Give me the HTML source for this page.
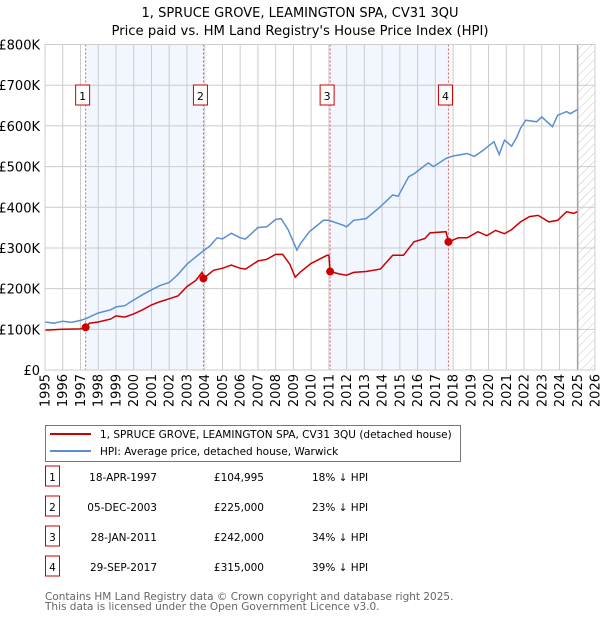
<!DOCTYPE html>
<html><head><meta charset="utf-8">
<style>
body{margin:0;background:#fff;font-family:"Liberation Sans","DejaVu Sans",sans-serif;}
#wrap{position:relative;width:600px;height:620px;overflow:hidden;}
svg text{font-family:"DejaVu Sans","Liberation Sans",sans-serif;}
</style></head>
<body>
<div id="wrap">
<svg id="chart" width="600" height="620"></svg>
</div>
<script>
const yTicks=[0,100,200,300,400,500,600,700,800];
const yTickLabels=["£0","£100K","£200K","£300K","£400K","£500K","£600K","£700K","£800K"];
const xYears=[1995,1996,1997,1998,1999,2000,2001,2002,2003,2004,2005,2006,2007,2008,2009,2010,2011,2012,2013,2014,2015,2016,2017,2018,2019,2020,2021,2022,2023,2024,2025,2026];
const hpiYears=[1995,1995.5,1996,1996.5,1997,1997.3,1998,1998.7,1999,1999.5,2000,2000.5,2001,2001.5,2002,2002.5,2003,2003.5,2003.9,2004.3,2004.7,2005,2005.5,2006,2006.3,2007,2007.5,2008,2008.3,2008.7,2009.2,2009.4,2009.9,2010.7,2011.0,2011.8,2012.0,2012.4,2013.1,2013.9,2014.6,2014.9,2015.5,2015.8,2016.6,2016.9,2017.6,2018.0,2018.8,2019.2,2019.7,2020.3,2020.6,2020.9,2021.3,2021.6,2021.8,2022.1,2022.7,2023.0,2023.6,2023.9,2024.4,2024.6,2025.0];
const hpiValues=[118,115,120,117,122,126,140,148,155,158,172,185,197,208,215,235,260,278,292,305,325,322,336,325,322,350,352,370,372,345,295,311,340,368,368,356,352,368,372,401,430,427,475,482,509,500,520,526,532,525,540,561,530,565,550,573,594,614,610,622,598,626,635,630,640];
const ppYears=[1995,1996,1997,1997.29,1997.5,1998,1998.7,1999,1999.5,2000,2000.5,2001,2001.5,2002,2002.5,2003,2003.5,2003.85,2003.93,2004.5,2005,2005.5,2006,2006.3,2007,2007.5,2008,2008.4,2008.8,2009.1,2009.4,2010.0,2010.9,2011.0,2011.07,2011.6,2012.0,2012.4,2013.1,2013.9,2014.6,2015.2,2015.8,2016.4,2016.7,2017.6,2017.74,2018.3,2018.8,2019.4,2019.9,2020.4,2020.9,2021.3,2021.8,2022.3,2022.8,2023.4,2023.9,2024.4,2024.8,2025.0];
const ppValues=[98,100,101,104.995,115,118,125,133,130,138,148,160,168,175,182,205,220,240,225,245,250,258,250,248,268,272,284,284,260,228,241,262,282,282,242,236,233,240,242,248,282,282,315,323,337,340,315,325,325,340,330,343,335,345,364,377,380,364,368,389,385,389];
const saleYears=[1997.29,2003.93,2011.07,2017.74];
const saleValues=[104.995,225,242,315];
const saleLabels=["1","2","3","4"];

const NS="http://www.w3.org/2000/svg";
const svg=document.getElementById('chart');
const L=45,R=595,T=44.5,B=370;
const xs=y=>L+(y-1995)*(R-L)/31;
const ys=v=>B-v*(B-T)/800;
function mk(tag,attrs,parent){const e=document.createElementNS(NS,tag);for(const k in attrs)e.setAttribute(k,attrs[k]);(parent||svg).appendChild(e);return e;}

let t=mk('text',{x:300,y:17,'text-anchor':'middle','font-size':13,fill:'#000'});t.textContent="1, SPRUCE GROVE, LEAMINGTON SPA, CV31 3QU";


t=mk('text',{x:300,y:35,'text-anchor':'middle','font-size':13.2,fill:'#000'});t.textContent="Price paid vs. HM Land Registry's House Price Index (HPI)";



for(let i=0;i<4;i+=2){const r=mk('rect',{x:xs(saleYears[i]),y:T,width:xs(saleYears[i+1])-xs(saleYears[i]),height:B-T,fill:'#f2f6fe'});

}

xYears.forEach(y=>{const l=mk('line',{x1:xs(y),x2:xs(y),y1:T,y2:B,stroke:'#cccccc','stroke-width':1});

});
yTicks.forEach(v=>{const l=mk('line',{x1:L,x2:R,y1:ys(v),y2:ys(v),stroke:'#cccccc','stroke-width':1});

});

const defs=mk('defs',{});
const pat=mk('pattern',{id:'hatch',patternUnits:'userSpaceOnUse',width:6,height:6,patternTransform:'rotate(45)'},defs);
mk('line',{x1:0,y1:0,x2:0,y2:6,stroke:'#c8c8c8','stroke-width':1},pat);
const hx=xs(2025.03);
let h=mk('rect',{x:hx,y:T,width:R-hx,height:B-T,fill:'url(#hatch)'});


mk('line',{x1:hx,x2:hx,y1:T,y2:B,stroke:'#999','stroke-width':1.2});

yTicks.forEach((v,i)=>{const e=mk('text',{x:40,y:ys(v)+5,'text-anchor':'end','font-size':13,fill:'#000'});e.textContent=yTickLabels[i];

});
xYears.forEach(y=>{const e=mk('text',{x:0,y:0,'text-anchor':'end','font-size':13,fill:'#000',transform:`translate(${xs(y)+4.5},374) rotate(-90)`});e.textContent=y;

});

saleYears.forEach(y=>{const l=mk('line',{x1:xs(y),x2:xs(y),y1:T,y2:B,stroke:'#e06060','stroke-width':1,'stroke-dasharray':'2,2'});

});

function path(xa,va){return xa.map((x,i)=>(i?'L':'M')+xs(x).toFixed(1)+','+ys(va[i]).toFixed(1)).join(' ');}
let p=mk('path',{d:path(hpiYears,hpiValues),fill:'none',stroke:'#5b8fd0','stroke-width':1.5});


p=mk('path',{d:path(ppYears,ppValues),fill:'none',stroke:'#cc0000','stroke-width':1.5});



saleYears.forEach((y,i)=>{const c=mk('circle',{cx:xs(y),cy:ys(saleValues[i]),r:4,fill:'#cc0000'});


const g=mk('g',{});


mk('rect',{x:xs(y)-10,y:85,width:14,height:20,fill:'#fff',stroke:'#cc0000','stroke-width':1},g);
const tt=mk('text',{x:xs(y)-3,y:100,'text-anchor':'middle','font-size':11,fill:'#000'},g);tt.textContent=saleLabels[i];});

mk('rect',{x:L,y:T,width:R-L,height:B-T,fill:'none',stroke:'#cccccc','stroke-width':1});

const lg=mk('g',{});


mk('rect',{x:45.5,y:425.5,width:415,height:36,fill:'#fff',stroke:'#777','stroke-width':1},lg);
mk('line',{x1:50,x2:91,y1:434,y2:434,stroke:'#cc0000','stroke-width':2},lg);
mk('line',{x1:50,x2:91,y1:451,y2:451,stroke:'#5b8fd0','stroke-width':2},lg);
let e=mk('text',{x:100,y:438,'font-size':10.5,fill:'#000'},lg);e.textContent="1, SPRUCE GROVE, LEAMINGTON SPA, CV31 3QU (detached house)";
e=mk('text',{x:100,y:455,'font-size':10.5,fill:'#000'},lg);e.textContent="HPI: Average price, detached house, Warwick";

const dates=["18-APR-1997","05-DEC-2003","28-JAN-2011","29-SEP-2017"];
const prices=["£104,995","£225,000","£242,000","£315,000"];
const pcts=["18% ↓ HPI","23% ↓ HPI","34% ↓ HPI","39% ↓ HPI"];
dates.forEach((d,i)=>{const cy=483+30*i;
const g=mk('g',{});


mk('rect',{x:45.5,y:cy-17,width:14,height:20,fill:'#fff',stroke:'#cc0000','stroke-width':1},g);
let a=mk('text',{x:52.5,y:cy-2,'text-anchor':'middle','font-size':10.5},g);a.textContent=saleLabels[i];
a=mk('text',{x:157,y:cy-2,'text-anchor':'end','font-size':10.5},g);a.textContent=d;
a=mk('text',{x:264,y:cy-2,'text-anchor':'end','font-size':10.5},g);a.textContent=prices[i];
a=mk('text',{x:312,y:cy-2,'font-size':10.5},g);a.textContent=pcts[i];});
e=mk('text',{x:45,y:600,'font-size':10.5,fill:'#666'});e.textContent="Contains HM Land Registry data © Crown copyright and database right 2025.";


e=mk('text',{x:45,y:610,'font-size':10.5,fill:'#666'});e.textContent="This data is licensed under the Open Government Licence v3.0.";


</script>
</body></html>
